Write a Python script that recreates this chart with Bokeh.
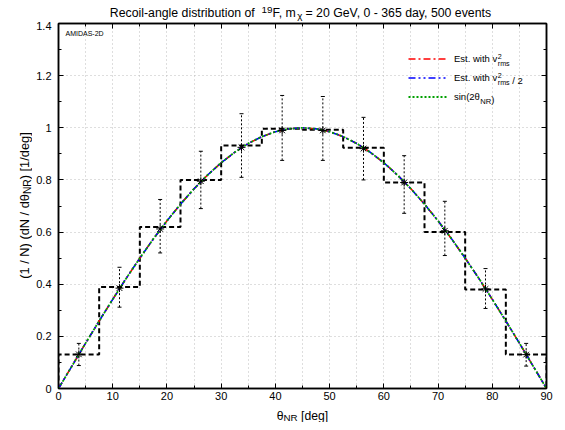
import math
from bokeh.plotting import figure
from bokeh.layouts import column, row
from bokeh.models import (Range1d, FixedTicker, LinearAxis, CustomJSTickFormatter, Label,
                          Legend, LegendItem, Whisker, TeeHead, ColumnDataSource)
from bokeh.embed import file_html
from bokeh.resources import INLINE

# ---------------- data ----------------
bin_edges = [0, 7.5, 15, 22.5, 30, 37.5, 45, 52.5, 60, 67.5, 75, 82.5, 90]
hist_heights = [0.130, 0.389, 0.619, 0.800, 0.932, 0.996, 0.992, 0.923, 0.790, 0.600, 0.380, 0.130]
rec_values = [0.131, 0.385, 0.612, 0.795, 0.925, 0.990, 0.990, 0.920, 0.790, 0.605, 0.382, 0.130]
err_upper = [0.173, 0.465, 0.725, 0.910, 1.054, 1.124, 1.120, 1.040, 0.893, 0.718, 0.460, 0.173]
err_lower = [0.088, 0.312, 0.520, 0.690, 0.810, 0.875, 0.875, 0.800, 0.672, 0.510, 0.307, 0.086]

curve_theta = [0, 2.5, 5, 7.5, 10, 12.5, 15, 17.5, 20, 22.5, 25, 27.5, 30, 32.5, 35, 37.5, 40, 42.5,
               45, 47.5, 50, 52.5, 55, 57.5, 60, 62.5, 65, 67.5, 70, 72.5, 75, 77.5, 80, 82.5, 85, 87.5, 90]
curve_est_vrms = [0.000, 0.087, 0.174, 0.259, 0.342, 0.423, 0.500, 0.574, 0.643, 0.707, 0.766, 0.819,
                  0.866, 0.906, 0.940, 0.966, 0.985, 0.996, 1.000, 0.996, 0.985, 0.966, 0.940, 0.906,
                  0.866, 0.819, 0.766, 0.707, 0.643, 0.574, 0.500, 0.423, 0.342, 0.259, 0.174, 0.087, 0.000]
curve_est_vrms_half = [0.000, 0.087, 0.174, 0.259, 0.342, 0.423, 0.500, 0.574, 0.643, 0.707, 0.766, 0.819,
                       0.866, 0.906, 0.940, 0.966, 0.985, 0.996, 1.000, 0.996, 0.985, 0.966, 0.940, 0.906,
                       0.866, 0.819, 0.766, 0.707, 0.643, 0.574, 0.500, 0.423, 0.342, 0.259, 0.174, 0.087, 0.000]
curve_sin = [0.000, 0.087, 0.174, 0.259, 0.342, 0.423, 0.500, 0.574, 0.643, 0.707, 0.766, 0.819,
             0.866, 0.906, 0.940, 0.966, 0.985, 0.996, 1.000, 0.996, 0.985, 0.966, 0.940, 0.906,
             0.866, 0.819, 0.766, 0.707, 0.643, 0.574, 0.500, 0.423, 0.342, 0.259, 0.174, 0.087, 0.000]

x_ticks = [0, 10, 20, 30, 40, 50, 60, 70, 80, 90]
x_minor = [5, 15, 25, 35, 45, 55, 65, 75, 85]
y_ticks = [0, 0.2, 0.4, 0.6, 0.8, 1.0, 1.2, 1.4]
y_minor = [0.1, 0.3, 0.5, 0.7, 0.9, 1.1, 1.3]

FONT = "Liberation Sans"

# page layout (pixels): title strip, y-label strip, main plot, x-label strip
TOP_H, LEFT_W, BOTTOM_H = 21, 32, 18
TOTAL_W, TOTAL_H = 557, 422
MID_H = TOTAL_H - TOP_H - BOTTOM_H

# ---------------- main figure ----------------
p = figure(width=TOTAL_W - LEFT_W, height=MID_H, x_range=Range1d(0, 90), y_range=Range1d(0, 1.4),
           output_backend="svg", toolbar_location=None, title=None,
           min_border_left=26, min_border_right=11, min_border_top=2, min_border_bottom=16)
p.background_fill_color = "white"
p.border_fill_color = "white"
p.outline_line_color = "black"
p.outline_line_width = 1.5

for ax, tk, mn in ((p.xaxis[0], x_ticks, x_minor), (p.yaxis[0], y_ticks, y_minor)):
    ax.ticker = FixedTicker(ticks=tk, minor_ticks=mn)
    ax.formatter = CustomJSTickFormatter(code="return String(Math.round(tick*10)/10)")
    ax.major_tick_in = 5
    ax.major_tick_out = 0
    ax.minor_tick_in = 3
    ax.minor_tick_out = 0
    ax.axis_line_width = 1.5
    ax.major_tick_line_width = 1
    ax.minor_tick_line_width = 1
    ax.major_label_text_font = FONT
    ax.major_label_text_font_size = "11px"
    ax.major_label_text_color = "black"
p.xaxis[0].major_label_standoff = 3
p.yaxis[0].major_label_standoff = 7

for loc, tk, mn in (("above", x_ticks, x_minor), ("right", y_ticks, y_minor)):
    ax = LinearAxis(ticker=FixedTicker(ticks=tk, minor_ticks=mn),
                    formatter=CustomJSTickFormatter(code="return ''"),
                    major_tick_in=5, major_tick_out=0, minor_tick_in=3, minor_tick_out=0,
                    axis_line_width=1.5, major_label_standoff=0,
                    major_label_text_font_size="1px")
    p.add_layout(ax, loc)

p.xgrid.ticker = FixedTicker(ticks=sorted(x_ticks + x_minor))
p.ygrid.ticker = FixedTicker(ticks=y_ticks)
for g in (p.xgrid[0], p.ygrid[0]):
    g.grid_line_color = "#bdbdbd"
    g.grid_line_dash = "1 3"
    g.grid_line_width = 1

# histogram (dashed step)
step_x = [bin_edges[0]]
step_y = [0]
for i, h in enumerate(hist_heights):
    step_x += [bin_edges[i], bin_edges[i + 1]]
    step_y += [h, h]
step_x.append(bin_edges[-1])
step_y.append(0)
p.line(step_x, step_y, line_color="black", line_width=2, line_dash="5 3")

# error bars
centers = [(bin_edges[i] + bin_edges[i + 1]) / 2 for i in range(len(hist_heights))]
src = ColumnDataSource(dict(x=centers, up=err_upper, lo=err_lower, y=rec_values))
wh = Whisker(base="x", upper="up", lower="lo", source=src, dimension="height",
             line_color="black", line_width=1, line_dash="2 2",
             upper_head=TeeHead(size=4, line_width=1, line_color="black"),
             lower_head=TeeHead(size=4, line_width=1, line_color="black"))
p.add_layout(wh)

# curves
r_red = p.line(curve_theta, curve_est_vrms, line_color="#ff0000", line_width=1.6, line_dash="7 3 2 3")
r_blue = p.line(curve_theta, curve_est_vrms_half, line_color="#0000ff", line_width=1.6, line_dash="7 3 2 3 2 3")
r_green = p.line(curve_theta, curve_sin, line_color="#00a000", line_width=1.8, line_dash="2 2")

# reconstructed points
p.scatter("x", "y", source=src, marker="asterisk", size=8, line_color="black", line_width=1)

# legend (line samples + leading text by Bokeh)
leg = Legend(items=[LegendItem(label="Est. with v", renderers=[r_red]),
                    LegendItem(label="Est. with v", renderers=[r_blue]),
                    LegendItem(label="sin(2\u03b8", renderers=[r_green])],
             location=(350, 282.5), orientation="vertical",
             glyph_width=40, glyph_height=19, label_height=19, label_standoff=6,
             spacing=0, padding=0, margin=0,
             label_text_font=FONT, label_text_font_size="9.5px", label_text_color="black",
             border_line_color=None, background_fill_alpha=0)
p.add_layout(leg)


def strip(w, h):
    f = figure(width=w, height=h, x_range=Range1d(0, 1), y_range=Range1d(0, 1),
               output_backend="svg", toolbar_location=None, title=None,
               x_axis_type=None, y_axis_type=None, min_border=0)
    f.grid.visible = False
    f.outline_line_color = None
    f.background_fill_color = "white"
    f.border_fill_color = "white"
    return f


top_fig = strip(TOTAL_W, TOP_H)
left_fig = strip(LEFT_W, MID_H)
bottom_fig = strip(TOTAL_W, BOTTOM_H)

# ---------------- rich text helpers (page pixel positions) ----------------
W = {' ': 278, '(': 333, ')': 333, '/': 278, '[': 278, ']': 278, '-': 333, ',': 278, '.': 278,
     '=': 584, 'A': 667, 'D': 722, 'E': 667, 'F': 611, 'G': 778, 'I': 278, 'M': 833, 'N': 722,
     'R': 722, 'S': 667, 'V': 667, 'a': 556, 'b': 556, 'c': 500, 'd': 556, 'e': 556, 'g': 556,
     'h': 556, 'i': 222, 'l': 222, 'm': 833, 'n': 556, 'o': 556, 'r': 333, 's': 500, 't': 278,
     'u': 556, 'v': 500, 'w': 722, 'y': 500, '\u03b8': 556, '\u03c7': 500}

# page offsets of each figure's canvas
OFFS = {"top": (top_fig, 0, 0), "left": (left_fig, 0, TOP_H),
        "main": (p, LEFT_W, TOP_H), "bottom": (bottom_fig, 0, TOP_H + MID_H)}


def tw(s, size):
    return sum(W.get(c, 556) for c in s) / 1000.0 * size


def add_text(where, text, px, py, size, angle=0.0):
    fig, ox, oy = OFFS[where]
    fig.add_layout(Label(x=px - ox, y=py - oy, x_units="canvas", y_units="canvas", text=text,
                         text_font=FONT, text_font_size=f"{size:.2f}px", text_color="black",
                         text_align="left", text_baseline="alphabetic", angle=angle))


def rich(where, parts, x, y, size, anchor="center", rotated=False, sub_scale=0.8,
         sup_shift=0.25, sub_shift=0.25):
    small = size * sub_scale
    widths = []
    for t, k in parts:
        if k == "n":
            widths.append(tw(t, size))
        elif k in ("sup", "sub"):
            widths.append(tw(t, small))
        else:  # stack: t = (sup, sub)
            widths.append(max(tw(t[0], small), tw(t[1], small)))
    total = sum(widths)
    a = -total / 2 if anchor == "center" else 0.0

    def put(t, along, shift, sz):
        lead = len(t) - len(t.lstrip(" "))
        along += tw(" " * lead, sz)   # svg drops leading blanks: move instead
        t = t.strip(" ")
        if rotated:
            add_text(where, t, x + shift, y - along, sz, angle=math.pi / 2)
        else:
            add_text(where, t, x + along, y + shift, sz)

    for (t, k), w in zip(parts, widths):
        if k == "n":
            put(t, a, 0, size)
        elif k == "sup":
            put(t, a, -sup_shift * size, small)
        elif k == "sub":
            put(t, a, sub_shift * size, small)
        else:
            put(t[0], a, -sup_shift * size, small)
            put(t[1], a, sub_shift * size, small)
        a += w


# title
rich("top", [("Recoil-angle distribution of ", "n"), ("19", "sup"), ("F, m", "n"), ("\u03c7", "sub"),
             (" = 20 GeV, 0 - 365 day, 500 events", "n")], 301, 12.5, 12.3, sub_shift=0.2)
# axis labels
rich("bottom", [("\u03b8", "n"), ("NR", "sub"), (" [deg]", "n")], 302, 415.8, 12.2, sub_shift=0.07)
rich("left", [("(1 / N) (dN / d\u03b8", "n"), ("NR", "sub"), (") [1/deg]", "n")], 24, 205, 12.8,
     rotated=True)
# tag
add_text("main", "AMIDAS-2D", 65, 32.5, 7)

# legend super/subscripts
lx = 454
for row_y, tail in ((58, None), (77, " / 2")):
    base = row_y + 2.5
    start = lx + tw("Est. with v", 9.5)
    parts = [(("2", "rms"), "stack")]
    if tail:
        parts.append((tail, "n"))
    rich("main", parts, start, base, 9.5, anchor="left", sub_scale=0.75, sup_shift=0.5, sub_shift=0.35)
rich("main", [("NR", "sub"), (")", "n")], lx + tw("sin(2\u03b8", 9.5), 96 + 2.5, 9.5, anchor="left",
     sub_scale=0.8, sub_shift=0.3)

layout = column(top_fig, row(left_fig, p, spacing=0), bottom_fig, spacing=0)
open("out.html", "w").write(file_html(layout, INLINE))
